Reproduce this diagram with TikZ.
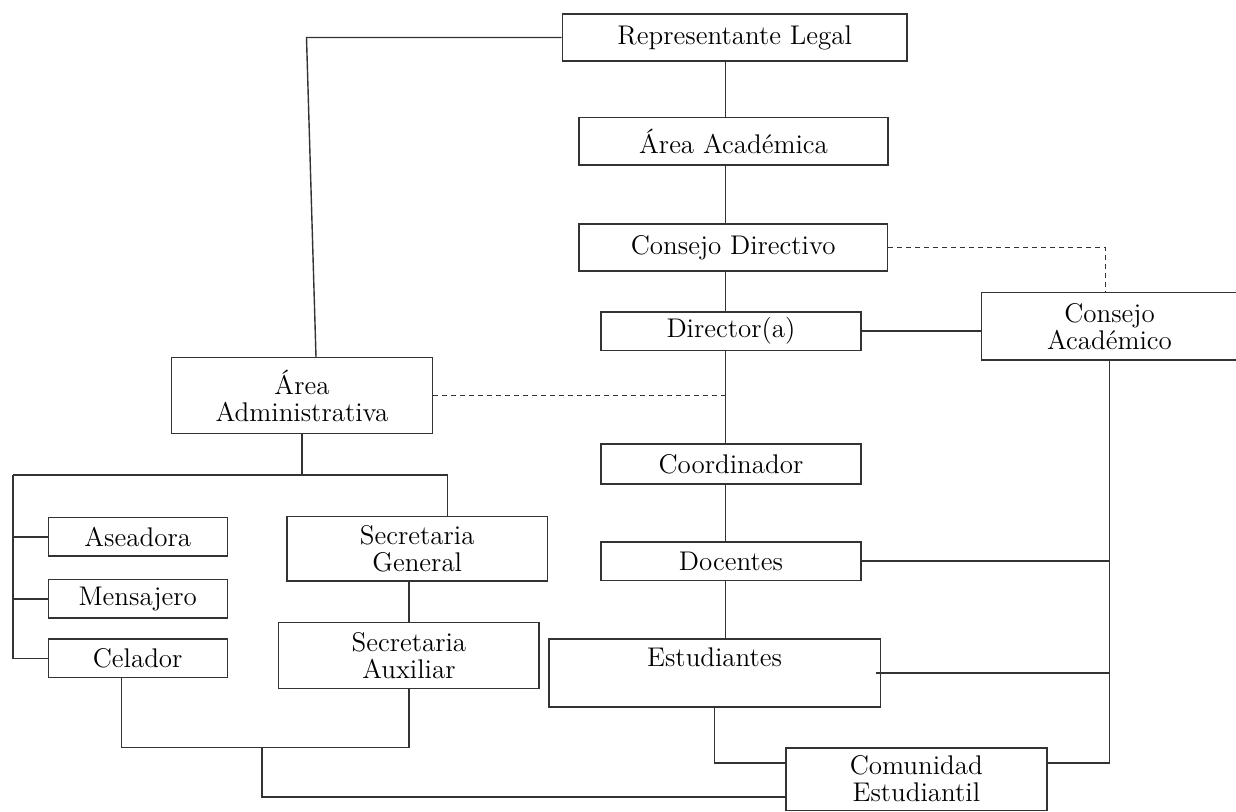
\documentclass[tikz,border=0pt]{standalone}

\begin{document}
\begin{tikzpicture}
    [x=0.5pt, y=-0.5pt, inner sep=0pt, line width=0.7pt, black!80,
     font=\fontsize{13.5}{13.5}\selectfont,
     unit/.style={draw, align=center, text=black},
     link/.style={dash pattern=on 2.5pt off 2pt}]

    \useasboundingbox (0, 0) rectangle (1236, 811);

    % trunk of the academic side:
    \coordinate (axis) at (725.5, 0);

    % academic side:
    \node (rep) at (734.7, 37.5) [unit, minimum width=172.3pt, minimum height=23.5pt] {Representante Legal};
    \node (aac) at (733.5, 141.3) [unit, minimum width=154.5pt, minimum height=23.7pt] {Área Académica};
    \node (cd) at (733.2, 247.5) [unit, minimum width=154.2pt, minimum height=23.5pt] {Consejo Directivo};
    \node (dir) at (731, 331) [unit, minimum width=130pt, minimum height=19.2pt] {Director(a)};
    \node (coord) at (731, 464) [unit, minimum width=130pt, minimum height=20pt] {Coordinador};
    \node (doc) at (731, 561) [unit, minimum width=130pt, minimum height=19.2pt] {Docentes};
    \node (est) at (714.6, 673) [unit, minimum width=165.8pt, minimum height=34pt] {Estudiantes\\[2pt]~};
    \node (com) at (916.3, 779) [unit, minimum width=130.5pt, minimum height=31.2pt] {Comunidad\\Estudiantil};
    \node (cac) at (1109.5, 326.3) [unit, minimum width=128pt, minimum height=33.7pt] {Consejo\\Académico};

    % administrative side:
    \node (aadm) at (302, 395.5) [unit, minimum width=130.5pt, minimum height=37.8pt] {Área\\Administrativa};
    \node (ase) at (137.7, 536.8) [unit, minimum width=89.5pt, minimum height=19.2pt] {Aseadora};
    \node (men) at (137.7, 598.8) [unit, minimum width=89.5pt, minimum height=19.2pt] {Mensajero};
    \node (cel) at (137.7, 658.2) [unit, minimum width=89.5pt, minimum height=19.2pt] {Celador};
    \node (sg) at (417.2, 548.8) [unit, minimum width=130.2pt, minimum height=32.2pt] {Secretaria\\General};
    \node (sa) at (408.9, 655.5) [unit, minimum width=130.2pt, minimum height=32.8pt] {Secretaria\\Auxiliar};

    % bends:
    \coordinate (rl) at (306.5, 37.5);
    \coordinate (busl) at (13, 475);
    \coordinate (busr) at (447.4, 475);
    \coordinate (botm) at (262, 747.3);

    % connect nodes:

    \draw (rep.south -| axis) to (aac.north -| axis);
    \draw (aac.south -| axis) to (cd.north -| axis);
    \draw (cd.south -| axis) to (dir.north -| axis);
    \draw (dir.south -| axis) to (coord.north -| axis);
    \draw (coord.south -| axis) to (doc.north -| axis);
    \draw (doc.south -| axis) to (est.north -| axis);

    \draw [link] (cd.east) -| ([xshift=-2pt]cac.north);
    \draw [link] (aadm.east) to (aadm.east -| axis);
    \draw (dir.east) to (dir.east -| cac.west);

    \draw (cac.south) |- ([yshift=8pt]com.east);
    \draw (doc.east) to (doc.east -| cac.south);
    \draw ([xshift=-2.7pt]est.east) to (est.east -| cac.south);
    \draw (est.south) |- ([yshift=8pt]com.west);

    \draw (rep.west) -- (rl) -- ([xshift=7pt]aadm.north);
    \draw (aadm.south) to (aadm.south |- busl);
    \draw (busl) -- (busr) -- (busr |- sg.north);
    \draw (busl) |- (cel.west);
    \draw (ase.west) to (ase.west -| busl);
    \draw (men.west) to (men.west -| busl);
    \draw (sg.south -| sa.north) to (sa.north);

    \draw ([xshift=-8.2pt]cel.south) -- ([xshift=-8.2pt]cel.south |- botm) -- (botm -| sa.south) -- (sa.south);
    \draw (botm) |- ([yshift=7pt]com.south west);

  \end{tikzpicture}
\end{document}
